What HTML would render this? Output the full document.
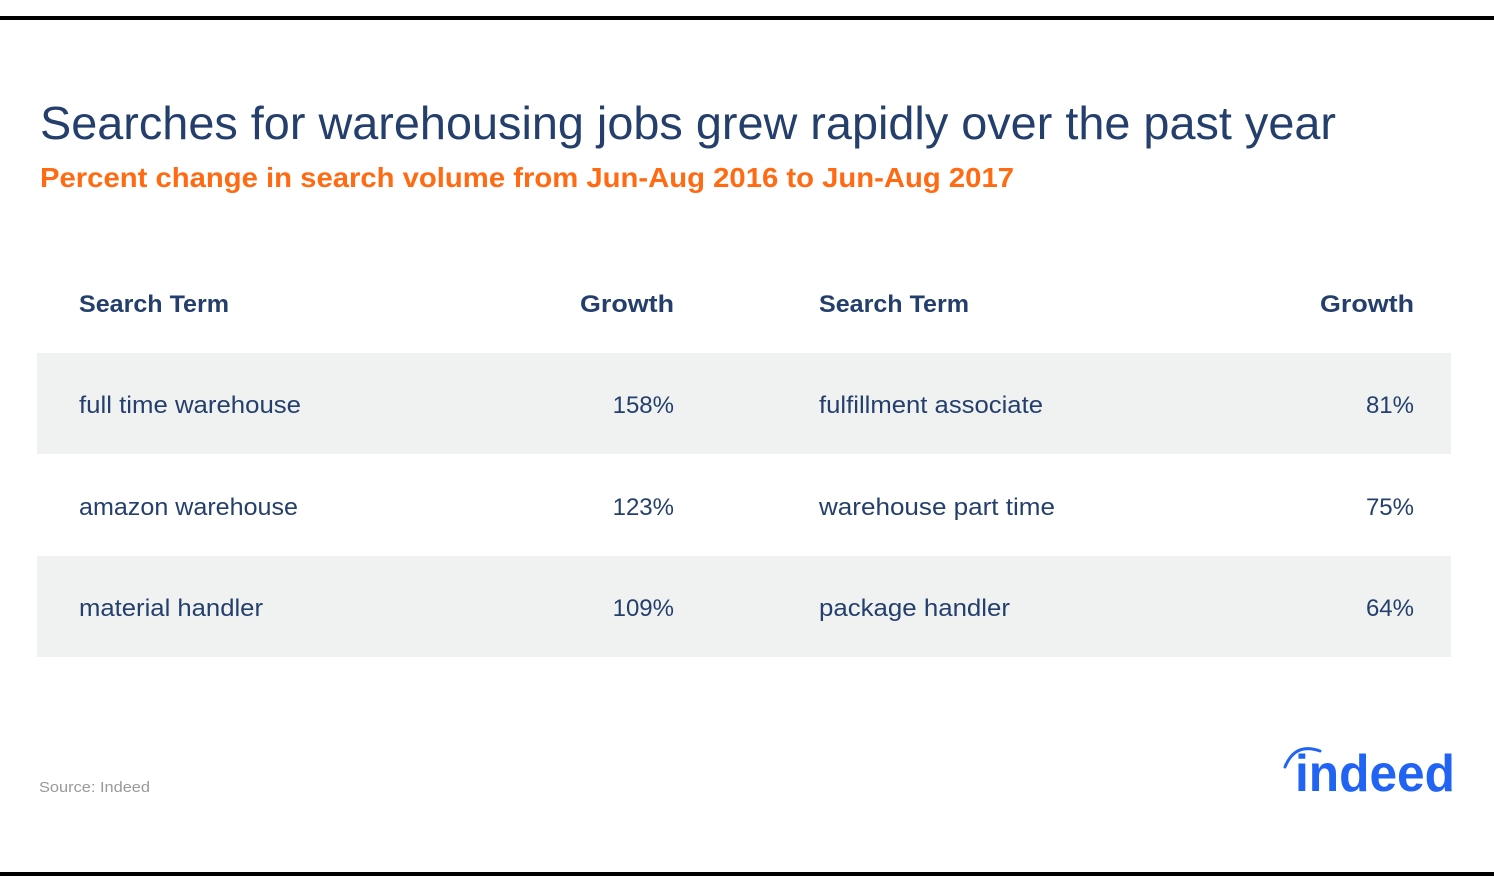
<!DOCTYPE html>
<html><head><meta charset="utf-8"><style>
html,body{margin:0;padding:0;background:#fff;width:1494px;height:893px;overflow:hidden}
svg{display:block;font-family:"Liberation Sans",sans-serif}
</style></head><body>
<svg width="1494" height="893" viewBox="0 0 1494 893">
<rect x="0" y="16" width="1494" height="4" fill="#000"/>
<rect x="0" y="872" width="1494" height="4" fill="#000"/>
<text x="40" y="139" font-size="46" fill="#243f6b" textLength="1296" lengthAdjust="spacingAndGlyphs">Searches for warehousing jobs grew rapidly over the past year</text>
<text x="40" y="187" font-size="28" font-weight="bold" fill="#ff6a13" textLength="974" lengthAdjust="spacingAndGlyphs">Percent change in search volume from Jun-Aug 2016 to Jun-Aug 2017</text>
<g font-size="24" font-weight="bold" fill="#243f6b">
<text x="79" y="312" textLength="150" lengthAdjust="spacingAndGlyphs">Search Term</text>
<text x="580" y="312" textLength="94" lengthAdjust="spacingAndGlyphs">Growth</text>
<text x="819" y="312" textLength="150" lengthAdjust="spacingAndGlyphs">Search Term</text>
<text x="1320" y="312" textLength="94" lengthAdjust="spacingAndGlyphs">Growth</text>
</g>
<rect x="37" y="353" width="1414" height="101" fill="#f0f2f2"/>
<rect x="37" y="556" width="1414" height="101" fill="#f0f2f2"/>
<g font-size="24" fill="#243f6b" lengthAdjust="spacingAndGlyphs">
<text x="79" y="413" textLength="222" lengthAdjust="spacingAndGlyphs">full time warehouse</text>
<text x="674" y="413" text-anchor="end">158%</text>
<text x="819" y="413" textLength="224" lengthAdjust="spacingAndGlyphs">fulfillment associate</text>
<text x="1414" y="413" text-anchor="end">81%</text>
<text x="79" y="515" textLength="219" lengthAdjust="spacingAndGlyphs">amazon warehouse</text>
<text x="674" y="515" text-anchor="end">123%</text>
<text x="819" y="515" textLength="236" lengthAdjust="spacingAndGlyphs">warehouse part time</text>
<text x="1414" y="515" text-anchor="end">75%</text>
<text x="79" y="616" textLength="184" lengthAdjust="spacingAndGlyphs">material handler</text>
<text x="674" y="616" text-anchor="end">109%</text>
<text x="819" y="616" textLength="191" lengthAdjust="spacingAndGlyphs">package handler</text>
<text x="1414" y="616" text-anchor="end">64%</text>
</g>
<text x="39" y="792" font-size="15" fill="#999" textLength="111" lengthAdjust="spacingAndGlyphs">Source: Indeed</text>
<g>
<path d="M1285 767 Q1295 742 1320 751" stroke="#2164f3" stroke-width="3" fill="none" stroke-linecap="round"/>
<text x="1295" y="791" font-size="52" font-weight="bold" fill="#2164f3" textLength="160" lengthAdjust="spacingAndGlyphs">indeed</text>
</g>
</svg>
</body></html>
